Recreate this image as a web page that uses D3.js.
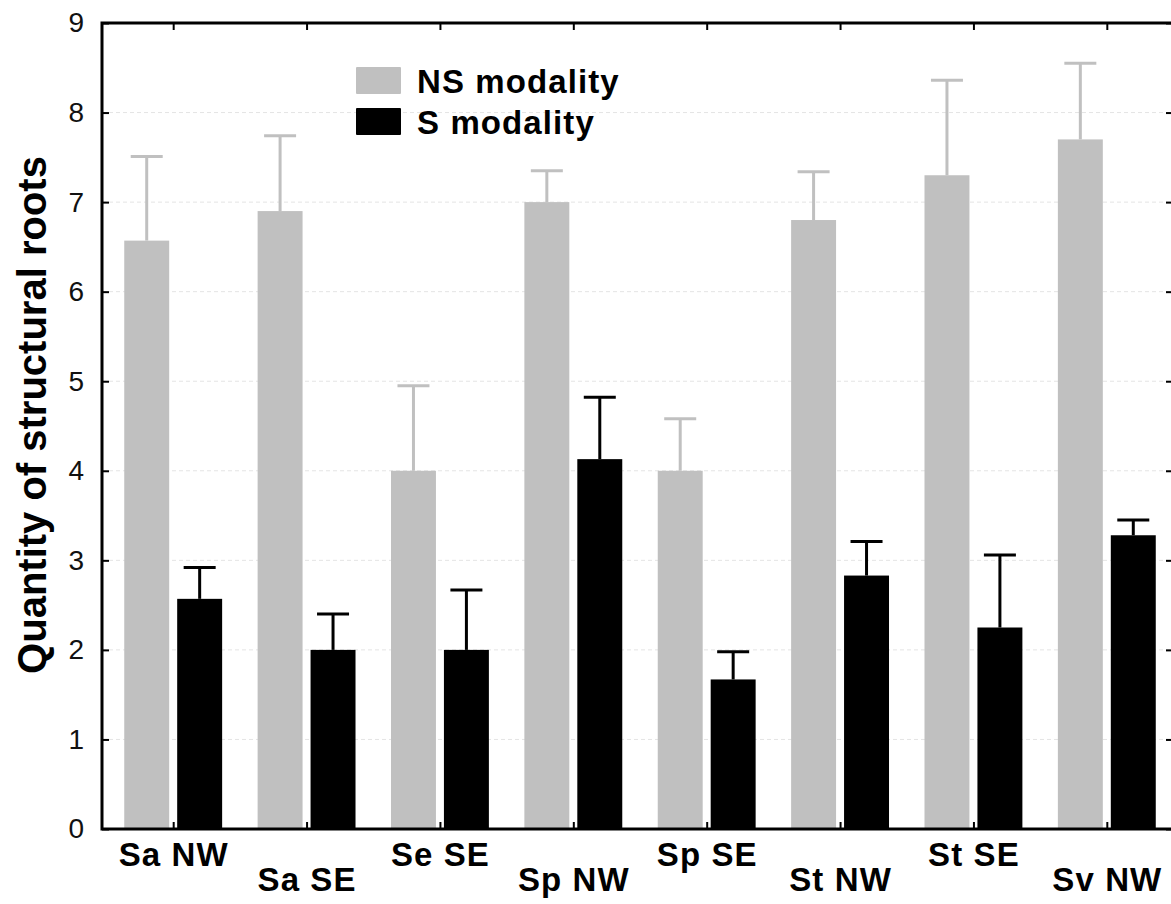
<!DOCTYPE html>
<html>
<head>
<meta charset="utf-8">
<script src="https://cdn.jsdelivr.net/npm/d3@7"></script>
<style>
  html, body { margin: 0; padding: 0; background: #fff; }
  svg { display: block; font-family: "Liberation Sans", Arial, Helvetica, sans-serif; }
</style>
</head>
<body>
<svg id="chart" width="1171" height="904"></svg>
<script>
// ---- data ----
const categories = ["Sa NW", "Sa SE", "Se SE", "Sp NW", "Sp SE", "St NW", "St SE", "Sv NW"];
const seriesNames = ["NS modality", "S modality"];
const nsMeans = [6.57, 6.90, 4.00, 7.00, 4.00, 6.80, 7.30, 7.70];
const nsUpper = [7.51, 7.74, 4.95, 7.35, 4.58, 7.34, 8.36, 8.55];
const sMeans  = [2.57, 2.00, 2.00, 4.13, 1.67, 2.83, 2.25, 3.28];
const sUpper  = [2.92, 2.40, 2.67, 4.82, 1.98, 3.21, 3.06, 3.45];
const yTicks  = [0, 1, 2, 3, 4, 5, 6, 7, 8, 9];
const yTitle  = "Quantity of structural roots";

const colors = { "NS modality": "#c0c0c0", "S modality": "#000000" };

const rows = [];
categories.forEach((c, i) => {
  rows.push({ cat: c, series: "NS modality", mean: nsMeans[i], upper: nsUpper[i] });
  rows.push({ cat: c, series: "S modality", mean: sMeans[i], upper: sUpper[i] });
});

// ---- layout ----
const pL = 102, pT = 23, pB = 829, pR = 1173;
const svg = d3.select("#chart");

const x = d3.scaleBand().domain(categories).range([106.5, 1173.5]).paddingInner(0).paddingOuter(0);
const x1 = d3.scaleBand().domain(seriesNames).range([0, x.bandwidth()]).paddingInner(0.151).paddingOuter(0.335);
const y = d3.scaleLinear().domain([0, 9]).range([pB, pT]);

// gridlines
svg.append("g").selectAll("line").data(yTicks.filter(d => d > 0 && d < 9)).join("line")
  .attr("x1", pL).attr("x2", pR)
  .attr("y1", d => y(d)).attr("y2", d => y(d))
  .attr("stroke", "#e4e4e4").attr("stroke-width", 1).attr("stroke-dasharray", "4,3");

// bars
const g = svg.append("g");
g.selectAll("rect.bar").data(rows).join("rect")
  .attr("class", "bar")
  .attr("x", d => x(d.cat) + x1(d.series))
  .attr("width", x1.bandwidth())
  .attr("y", d => y(d.mean))
  .attr("height", d => y(0) - y(d.mean))
  .attr("fill", d => colors[d.series]);

// error bars
const capW = 32;
g.selectAll("line.err").data(rows).join("line")
  .attr("class", "err")
  .attr("x1", d => x(d.cat) + x1(d.series) + x1.bandwidth() / 2)
  .attr("x2", d => x(d.cat) + x1(d.series) + x1.bandwidth() / 2)
  .attr("y1", d => y(d.mean))
  .attr("y2", d => y(d.upper))
  .attr("stroke", d => colors[d.series]).attr("stroke-width", 3);
g.selectAll("line.cap").data(rows).join("line")
  .attr("class", "cap")
  .attr("x1", d => x(d.cat) + x1(d.series) + x1.bandwidth() / 2 - capW / 2)
  .attr("x2", d => x(d.cat) + x1(d.series) + x1.bandwidth() / 2 + capW / 2)
  .attr("y1", d => y(d.upper))
  .attr("y2", d => y(d.upper))
  .attr("stroke", d => colors[d.series]).attr("stroke-width", 3);

// axes
const tickPos = d => x(d) + x.bandwidth() / 2;
const xc = d3.scalePoint().domain(categories).range([tickPos(categories[0]), tickPos(categories[categories.length - 1])]);

const axB = svg.append("g").attr("transform", `translate(0,${pB})`)
  .call(d3.axisBottom(xc).tickSize(-7).tickSizeOuter(0));
axB.select(".domain").remove();
axB.selectAll(".tick line").attr("stroke", "#000").attr("stroke-width", 2);
axB.selectAll(".tick text")
  .attr("dy", null)
  .attr("y", (d, i) => i % 2 === 0 ? 37 : 62)
  .attr("font-size", 33).attr("font-weight", "bold")
  .attr("letter-spacing", 1.1)
  .attr("font-family", "Liberation Sans, Arial, sans-serif")
  .attr("fill", "#000");

const axT = svg.append("g").attr("transform", `translate(0,${pT})`)
  .call(d3.axisTop(xc).tickSize(-7).tickSizeOuter(0).tickFormat(""));
axT.select(".domain").remove();
axT.selectAll(".tick line").attr("stroke", "#000").attr("stroke-width", 2);

const axL = svg.append("g").attr("transform", `translate(${pL},0)`)
  .call(d3.axisLeft(y).tickValues(yTicks).tickSize(-7).tickSizeOuter(0).tickPadding(18).tickFormat(d3.format("d")));
axL.select(".domain").remove();
axL.selectAll(".tick line").attr("stroke", "#000").attr("stroke-width", 2);
axL.selectAll(".tick text")
  .attr("font-size", 28).attr("font-family", "Liberation Sans, Arial, sans-serif").attr("fill", "#111");

const axR = svg.append("g").attr("transform", `translate(${pR},0)`)
  .call(d3.axisRight(y).tickValues(yTicks).tickSize(-7).tickSizeOuter(0).tickFormat(""));
axR.select(".domain").remove();
axR.selectAll(".tick line").attr("stroke", "#000").attr("stroke-width", 2);

// frame
svg.append("rect")
  .attr("x", pL).attr("y", pT).attr("width", pR - pL).attr("height", pB - pT)
  .attr("fill", "none").attr("stroke", "#000").attr("stroke-width", 3);

// y title
svg.append("text")
  .attr("transform", `translate(46,${(157 + 673) / 2}) rotate(-90)`)
  .attr("text-anchor", "middle")
  .attr("font-size", 40).attr("font-weight", "bold")
  .attr("fill", "#000")
  .text(yTitle);

// legend
const leg = svg.append("g").attr("transform", "translate(356,67)");
seriesNames.forEach((s, i) => {
  leg.append("rect").attr("x", 0).attr("y", i * 41).attr("width", 45).attr("height", 27)
    .attr("rx", 1).attr("fill", colors[s]);
  leg.append("text").attr("x", 61).attr("y", i * 41 + 26)
    .attr("font-size", 33).attr("font-weight", "bold").attr("letter-spacing", 1.1)
    .attr("fill", "#000").text(s);
});
</script>
</body>
</html>
